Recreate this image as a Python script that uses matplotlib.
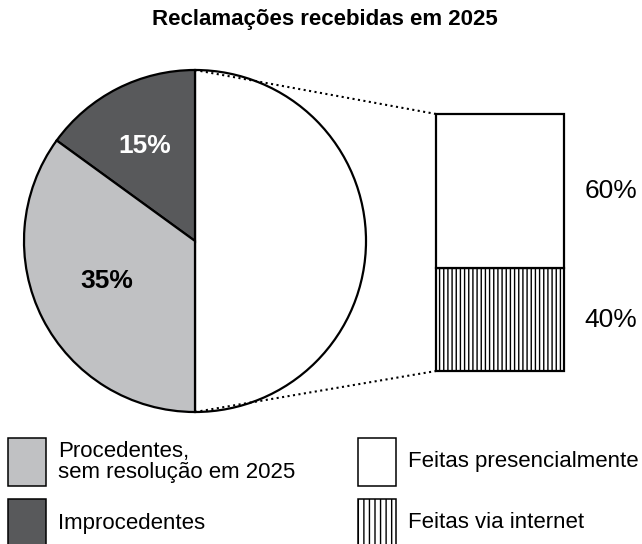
import matplotlib.pyplot as plt
from matplotlib.patches import Rectangle

plt.rcParams['font.family'] = ['Liberation Sans', 'DejaVu Sans']
plt.rcParams['hatch.linewidth'] = 1.0

# data
title = 'Reclamações recebidas em 2025'
pie_labels = ['Feitas (detalhe)', 'Improcedentes', 'Procedentes,\nsem resolução em 2025']
pie_values = [50, 15, 35]
pie_colors = ['white', '#58595b', '#c0c1c3']
bar_labels = ['Feitas via internet', 'Feitas presencialmente']
bar_values = [40, 60]
bar_hatches = ['||||', '']

W, H = 642, 544
fig = plt.figure(figsize=(W / 100, H / 100), dpi=100)
ax = fig.add_axes([0, 0, 1, 1])

# pie (pixel layout, y flipped)
cx, cy, r = 195, H - 241, 171
wedges, _ = ax.pie(pie_values, colors=pie_colors, startangle=270, counterclock=True,
                   center=(cx, cy), radius=r, frame=True,
                   wedgeprops=dict(edgecolor='black', linewidth=1.6))
ax.set_xlim(0, W)
ax.set_ylim(0, H)
ax.set_aspect('equal')
ax.axis('off')

ax.text(145, H - 146, f'{pie_values[1]}%', color='white', fontsize=19, fontweight='bold',
        ha='center', va='center')
ax.text(107, H - 281, f'{pie_values[2]}%', color='black', fontsize=19, fontweight='bold',
        ha='center', va='center')

# bar of pie
bx, bw = 436, 128
b_bottom, b_height = H - 371, 257
scale = b_height / sum(bar_values)
bottom = b_bottom
for v, h in zip(bar_values, bar_hatches):
    ax.bar(bx, v * scale, width=bw, bottom=bottom, align='edge', color='white',
           edgecolor='black', linewidth=1.6, hatch=h)
    ax.text(611, bottom + v * scale / 2, f'{v}%', fontsize=19, ha='center', va='center')
    bottom += v * scale

# dotted connectors
ax.plot([cx, bx], [cy + r, b_bottom + b_height], color='black', linestyle=':', linewidth=1.5)
ax.plot([cx, bx], [cy - r, b_bottom], color='black', linestyle=':', linewidth=1.5)

# title
ax.text(325, H - 20, title, fontsize=16, fontweight='bold', ha='center', va='center')

# legend
legend_items = [
    (8, 438, pie_colors[2], '', pie_labels[2]),
    (8, 499, pie_colors[1], '', pie_labels[1]),
    (358, 438, 'white', '', bar_labels[1]),
    (358, 499, 'white', '|||', bar_labels[0]),
]
for x0, y0, fc, hatch, label in legend_items:
    ax.add_patch(Rectangle((x0, H - y0 - 48), 38, 48, facecolor=fc, edgecolor='black',
                           linewidth=1.1, hatch=hatch, clip_on=False))
    ax.text(x0 + 50, H - y0 - 24, label, fontsize=16, ha='left', va='center',
            linespacing=1.05)

fig.savefig('out.png', dpi=100)
